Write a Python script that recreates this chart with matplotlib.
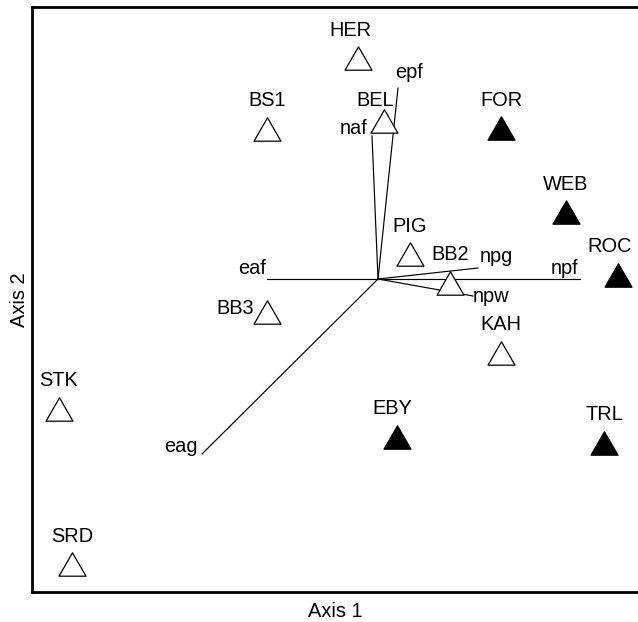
import numpy as np
import matplotlib.pyplot as plt
from matplotlib.path import Path

plt.rcParams['font.family'] = ['Liberation Sans', 'DejaVu Sans']

# site scores
sites = ['HER', 'BS1', 'BEL', 'FOR', 'WEB', 'PIG', 'BB2', 'ROC', 'BB3', 'KAH', 'STK', 'EBY', 'TRL', 'SRD']
axis1 = [-0.10, -0.555, 0.03, 0.615, 0.94, 0.16, 0.36, 1.20, -0.555, 0.615, -1.595, 0.095, 1.13, -1.53]
axis2 = [1.105, 0.75, 0.79, 0.755, 0.335, 0.125, -0.02, 0.02, -0.165, -0.37, -0.65, -0.79, -0.82, -1.425]
filled = [False, False, False, True, True, False, False, True, False, False, False, True, True, False]

# environmental vectors
vectors = ['eaf', 'npf', 'eag', 'epf', 'naf', 'npg', 'npw']
vec_x = [-0.555, 1.01, -0.88, 0.10, -0.03, 0.50, 0.475]
vec_y = [0.0, 0.0, -0.875, 0.955, 0.715, 0.055, -0.085]

PX = 0.72  # pixels -> points at dpi 100

# label placement (ha, va, dx px, dy px)
vec_lab = {
    'eaf': ('right', 'center', -1, 11),
    'npf': ('right', 'center', -2, 11),
    'eag': ('right', 'center', -4, 8),
    'epf': ('left', 'center', -3, 16),
    'naf': ('right', 'center', -5, 8),
    'npg': ('left', 'center', 2, 11),
    'npw': ('left', 'center', 0, -1),
}
site_lab = {
    'BB3': ('right', 'center', -13, 3),
    'BEL': ('center', 'center', -9, 21),
    'HER': ('center', 'center', -8, 28),
    'ROC': ('center', 'center', -8, 28),
    'EBY': ('center', 'center', -5, 28),
}

tri = Path([(-0.5, -0.433), (0.5, -0.433), (0, 0.433), (-0.5, -0.433)],
           [Path.MOVETO, Path.LINETO, Path.LINETO, Path.CLOSEPOLY])

fig = plt.figure(figsize=(6.38, 6.22), dpi=100)
ax = fig.add_axes([32 / 638, 30 / 622, 606 / 638, 585 / 622])

for name, vx, vy in zip(vectors, vec_x, vec_y):
    ax.plot([0, vx], [0, vy], color='black', lw=0.85, zorder=1)
    ha, va, dx, dy = vec_lab[name]
    ax.annotate(name, (vx, vy), xytext=(dx * PX, dy * PX), textcoords='offset points',
                ha=ha, va=va, fontsize=14.4)

for name, x, y, f in zip(sites, axis1, axis2, filled):
    ax.plot(x, y, marker=tri, markersize=27 * PX, linestyle='none',
            markerfacecolor='black' if f else 'white', markeredgecolor='black',
            markeredgewidth=0.9, zorder=3)
    ha, va, dx, dy = site_lab.get(name, ('center', 'center', 0, 28))
    ax.annotate(name, (x, y), xytext=(dx * PX, dy * PX), textcoords='offset points',
                ha=ha, va=va, fontsize=14.4)

ax.set_xlim(-1.73, 1.30)
ax.set_ylim(-1.565, 1.36)
ax.set_xticks([])
ax.set_yticks([])
ax.spines['right'].set_visible(False)
for s in ['left', 'top', 'bottom']:
    ax.spines[s].set_linewidth(2)
ax.set_xlabel('Axis 1', fontsize=14.4, labelpad=7.5)
ax.set_ylabel('Axis 2', fontsize=14.4, labelpad=2.5)

fig.savefig('out.png', dpi=100)
